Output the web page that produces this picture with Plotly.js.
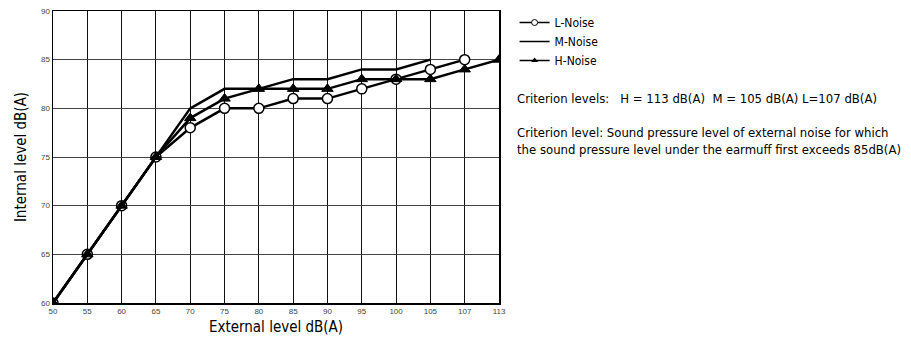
<!DOCTYPE html>
<html>
<head>
<meta charset="utf-8">
<script src="https://cdn.plot.ly/plotly-3.0.1.min.js"></script>
<style>html,body{margin:0;padding:0;background:#fff;}#chart{width:911px;height:343px;}</style>
</head>
<body>
<div id="chart"></div>
<script>
const externalLevels = ['50','55','60','65','70','75','80','85','90','95','100','105','107','113'];
const lNoise = [60,65,70,75,78,80,80,81,81,82,83,84,85,null];
const mNoise = [60,65,70,75,80,82,82,83,83,84,84,85,null,null];
const hNoise = [60,65,70,75,79,81,82,82,82,83,83,83,84,85];
const yTicks = [60,65,70,75,80,85,90];
const seriesNames = ['L-Noise','M-Noise','H-Noise'];

const FONT = '"Liberation Sans Narrow", "DejaVu Sans Condensed", "Liberation Sans", Arial, sans-serif';

const traces = [
  {name:seriesNames[0], x:externalLevels, y:lNoise, type:'scatter', mode:'lines+markers', showlegend:false,
   line:{color:'#000', width:2.5},
   marker:{symbol:'circle', size:10, color:'#fff', line:{color:'#000', width:1.5}}},
  {name:seriesNames[1], x:externalLevels, y:mNoise, type:'scatter', mode:'lines', showlegend:false,
   line:{color:'#000', width:2.5}},
  {name:seriesNames[2], x:externalLevels, y:hNoise, type:'scatter', mode:'lines+markers', showlegend:false,
   line:{color:'#000', width:2.5},
   marker:{symbol:'triangle-up', size:10, color:'#000', line:{color:'#000', width:1}}},
  // legend entries (thin line, small marker as in the reference key)
  {name:seriesNames[0], x:[null], y:[null], type:'scatter', mode:'lines+markers',
   line:{color:'#000', width:1.5}, marker:{symbol:'circle', size:6, color:'#fff', line:{color:'#000', width:1}}},
  {name:seriesNames[1], x:[null], y:[null], type:'scatter', mode:'lines',
   line:{color:'#000', width:1.5}},
  {name:seriesNames[2], x:[null], y:[null], type:'scatter', mode:'lines+markers',
   line:{color:'#000', width:1.5}, marker:{symbol:'triangle-up', size:6, color:'#000', line:{color:'#000', width:0}}}
];

const plotH = 343 - 8 - 40;
const layout = {
  width:911, height:343,
  margin:{l:53, r:412, t:8, b:40},
  paper_bgcolor:'#fff', plot_bgcolor:'#fff',
  font:{family:FONT, color:'#000'},
  showlegend:true,
  legend:{x:1.035, y:1.0 + 3/plotH, xanchor:'left', yanchor:'top', font:{size:12, family:FONT, color:'#000'},
          bgcolor:'rgba(0,0,0,0)', borderwidth:0, tracegroupgap:0, itemwidth:30},
  xaxis:{type:'category', range:[0,13], tickvals:externalLevels, ticktext:externalLevels,
         showgrid:true, gridcolor:'#111', gridwidth:1, showline:true, linecolor:'#000', linewidth:1.5,
         mirror:true, ticks:'', tickfont:{size:8, color:'#444', family:'"Liberation Sans", Arial, sans-serif'},
         zeroline:false, fixedrange:true,
         title:{text:'External level dB(A)', font:{size:15, color:'#000', family:FONT}, standoff:6}},
  yaxis:{range:[60,90], tickvals:yTicks, showgrid:true, gridcolor:'#444', gridwidth:1,
         showline:true, linecolor:'#000', linewidth:1.5, mirror:true, ticks:'', zeroline:false,
         tickfont:{size:8, color:'#444', family:'"Liberation Sans", Arial, sans-serif'},
         title:{text:'Internal level dB(A)', font:{size:15, color:'#000', family:FONT}, standoff:10}},
  annotations:[
    {xref:'paper', yref:'paper', x:1.0, y:1 - (96 - 8) / plotH, xshift:16, xanchor:'left', yanchor:'middle',
     showarrow:false, align:'left', font:{size:13, family:FONT, color:'#000'},
     text:'Criterion levels:   H = 113 dB(A)  M = 105 dB(A) L=107 dB(A)'},
    {xref:'paper', yref:'paper', x:1.0, y:1 - (139 - 8) / plotH, xshift:16, xanchor:'left', yanchor:'middle',
     showarrow:false, align:'left', font:{size:13, family:FONT, color:'#000'},
     text:'Criterion level: Sound pressure level of external noise for which<br>the sound pressure level under the earmuff first exceeds 85dB(A)'}
  ]
};

Plotly.newPlot('chart', traces, layout, {displayModeBar:false, staticPlot:true});
</script>
</body>
</html>
